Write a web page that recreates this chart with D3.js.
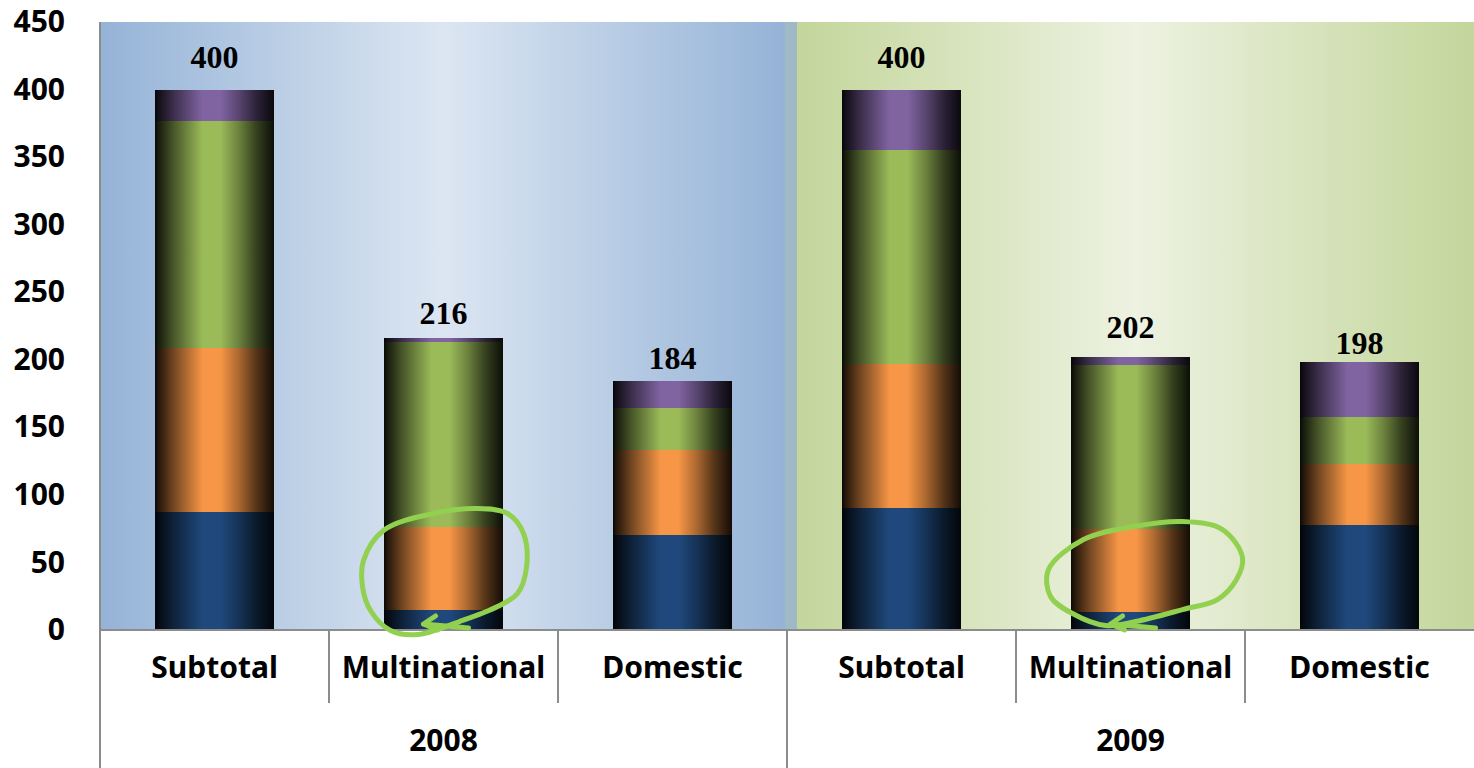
<!DOCTYPE html>
<html>
<head>
<meta charset="utf-8">
<script src="https://cdn.jsdelivr.net/npm/d3@7"></script>
<style>
  body { margin: 0; background: #fff; }
  svg { display: block; }
</style>
</head>
<body>
<div id="content"></div>
<script>
// stacked bars, 2008 vs 2009, bottom to top: blue, orange, green, purple
let categories = ["Subtotal", "Multinational", "Domestic", "Subtotal", "Multinational", "Domestic"];
let groups = ["2008", "2008", "2008", "2009", "2009", "2009"];
let groupNames = ["2008", "2009"];
let seriesNames = ["blue", "orange", "green", "purple"];
let blueValues = [87, 15, 70, 90, 13, 78];
let orangeValues = [122, 61, 63, 107, 62, 45];
let greenValues = [168, 137, 31, 158, 121, 35];
let purpleValues = [23, 3, 20, 45, 6, 40];
let totals = [400, 216, 184, 400, 202, 198];
let yTicks = [0, 50, 100, 150, 200, 250, 300, 350, 400, 450];

let width = 1474;
let height = 768;
let plotLeft = 100, plotRight = 1474, plotTop = 22, baseline = 630;

let colors = { blue: "#1f497d", orange: "#f79646", green: "#9bbb59", purple: "#8064a2" };
// gap between total label baseline and bar top (labels were placed by hand)
let labelGap = [22, 14, 12, 22, 19, 8];

let svg = d3.select("#content").append("svg")
  .attr("width", width)
  .attr("height", height);

let defs = svg.append("defs");

let rows = categories.map(function(c, i) {
  return {
    key: i, category: c, group: groups[i],
    blue: blueValues[i], orange: orangeValues[i],
    green: greenValues[i], purple: purpleValues[i]
  };
});

let x = d3.scaleBand()
  .domain(rows.map(d => d.key))
  .range([plotLeft, plotRight])
  .paddingInner(0.48)
  .paddingOuter(0.24);
let step = x.step();
let y = d3.scaleLinear().domain([0, 450]).range([baseline, plotTop]);

// background gradients for the two years
function bgGradient(id, edge, mid) {
  let g = defs.append("linearGradient").attr("id", id)
    .attr("x1", "0%").attr("x2", "100%").attr("y1", "0%").attr("y2", "0%");
  g.append("stop").attr("offset", "0%").attr("stop-color", edge);
  g.append("stop").attr("offset", "50%").attr("stop-color", mid);
  g.append("stop").attr("offset", "100%").attr("stop-color", edge);
}
bgGradient("bg2008", "#95b3d7", "#dce6f2");
bgGradient("bg2009", "#c3d69b", "#edf2e1");

let groupStart = {};
groupNames.forEach(function(g) {
  let keys = rows.filter(d => d.group == g).map(d => d.key);
  groupStart[g] = [x(keys[0]) - x.paddingOuter() * step,
                   x(keys[keys.length - 1]) + x.bandwidth() + x.paddingOuter() * step];
});

svg.append("rect")
  .attr("x", groupStart["2008"][0]).attr("y", plotTop)
  .attr("width", groupStart["2008"][1] - groupStart["2008"][0] - 2)
  .attr("height", baseline - plotTop)
  .attr("fill", "url(#bg2008)");
svg.append("rect")
  .attr("x", groupStart["2009"][0] + 10).attr("y", plotTop)
  .attr("width", groupStart["2009"][1] - groupStart["2009"][0] - 10)
  .attr("height", baseline - plotTop)
  .attr("fill", "url(#bg2009)");
svg.append("rect")
  .attr("x", groupStart["2009"][0] - 2).attr("y", plotTop)
  .attr("width", 12)
  .attr("height", baseline - plotTop)
  .attr("fill", "#9fbac6");

// cylinder-like shading for each series
seriesNames.forEach(function(s) {
  let c = colors[s];
  let dark = d3.interpolateRgb(c, "#000");
  let g = defs.append("linearGradient").attr("id", "bar_" + s)
    .attr("x1", "0%").attr("x2", "100%").attr("y1", "0%").attr("y2", "0%");
  [[0, 0.95], [0.03, 0.85], [0.15, 0.55], [0.4, 0], [0.55, 0], [0.7, 0.3], [0.85, 0.65], [1, 0.92]]
    .forEach(function(p) {
      g.append("stop").attr("offset", p[0]).attr("stop-color", dark(p[1]));
    });
});

let stacked = d3.stack().keys(seriesNames)(rows);

svg.append("g").selectAll("g")
  .data(stacked)
  .join("g")
  .attr("fill", d => "url(#bar_" + d.key + ")")
  .selectAll("rect")
  .data(d => d)
  .join("rect")
  .attr("shape-rendering", "crispEdges")
  .attr("x", d => x(d.data.key))
  .attr("y", d => y(d[1]))
  .attr("width", x.bandwidth())
  .attr("height", d => y(d[0]) - y(d[1]));

// total labels
svg.append("g").selectAll("text")
  .data(totals)
  .join("text")
  .attr("x", (d, i) => x(i) + x.bandwidth() / 2)
  .attr("y", (d, i) => y(d) - labelGap[i])
  .attr("text-anchor", "middle")
  .style("font-family", "'Liberation Serif', 'Times New Roman', serif")
  .style("font-weight", "bold")
  .style("font-size", "32px")
  .text(d => d);

// y axis
let yAxis = svg.append("g")
  .attr("transform", "translate(" + plotLeft + ",0)")
  .call(d3.axisLeft(y).tickValues(yTicks).tickSize(0).tickPadding(35));
yAxis.select(".domain").remove();
yAxis.selectAll("text")
  .style("font-family", "'Noto Sans', 'Open Sans', sans-serif")
  .style("font-weight", "bold")
  .style("font-size", "30px")
  .attr("fill", "#000");

let axisColor = "#8c8c8c";
svg.append("line")
  .attr("x1", plotLeft).attr("x2", plotLeft).attr("y1", plotTop).attr("y2", height)
  .attr("stroke", axisColor).attr("stroke-width", 2);
svg.append("line")
  .attr("x1", plotLeft).attr("x2", plotRight).attr("y1", baseline).attr("y2", baseline)
  .attr("stroke", axisColor).attr("stroke-width", 2);

// category separators and labels
let catTicks = rows.filter((d, i) => i > 0 && groups[i] == groups[i - 1]);
svg.append("g").selectAll("line")
  .data(catTicks)
  .join("line")
  .attr("x1", d => x(d.key) - x.paddingInner() * step / 2)
  .attr("x2", d => x(d.key) - x.paddingInner() * step / 2)
  .attr("y1", baseline).attr("y2", 703)
  .attr("stroke", axisColor).attr("stroke-width", 2);

svg.append("g").selectAll("line")
  .data(groupNames.slice(1))
  .join("line")
  .attr("x1", d => groupStart[d][0])
  .attr("x2", d => groupStart[d][0])
  .attr("y1", baseline).attr("y2", height)
  .attr("stroke", axisColor).attr("stroke-width", 2);

svg.append("g").selectAll("text")
  .data(rows)
  .join("text")
  .attr("x", d => x(d.key) + x.bandwidth() / 2)
  .attr("y", 667)
  .attr("dy", "0.35em")
  .attr("text-anchor", "middle")
  .style("font-family", "'Noto Sans', 'Open Sans', sans-serif")
  .style("font-weight", "bold")
  .style("font-size", "30px")
  .text(d => d.category);

svg.append("g").selectAll("text")
  .data(groupNames)
  .join("text")
  .attr("x", d => (groupStart[d][0] + groupStart[d][1]) / 2)
  .attr("y", 740)
  .attr("dy", "0.35em")
  .attr("text-anchor", "middle")
  .style("font-family", "'Noto Sans', 'Open Sans', sans-serif")
  .style("font-weight", "bold")
  .style("font-size", "30px")
  .text(d => d);

// hand-drawn green loops around the multinational orange segments
let loops = [
  { key: 1, pts: [[-60, -38], [-10, -55], [33, -60], [64, -55], [80, -35], [83, -1], [74, 25], [54, 38],
                  [16, 53], [-26, 66], [-53, 62], [-73, 42], [-81, 18], [-80, -8]] },
  { key: 4, pts: [[-82, -1], [-47, -31], [3, -44], [52, -49], [92, -41], [112, -13], [106, 9], [87, 29],
                  [52, 39], [5, 51], [-25, 55], [-58, 43], [-80, 26]] }
];
let loopLine = d3.line().curve(d3.curveCatmullRomClosed);
loops.forEach(function(l) {
  let cx = x(l.key) + x.bandwidth() / 2;
  let cy = y(orangeValues[l.key] / 2 + blueValues[l.key]);
  svg.append("path")
    .attr("d", loopLine(l.pts.map(p => [cx + p[0], cy + p[1]])))
    .attr("fill", "none")
    .attr("stroke", "#92d050")
    .attr("stroke-width", 5)
    .attr("stroke-linecap", "round");
  let tip = [cx - 20, baseline - 6];
  svg.append("path")
    .attr("d", "M" + (cx + 25) + "," + (baseline - 2) + "L" + tip + "M" + tip + "l12,-8M" + tip + "l14,6")
    .attr("fill", "none")
    .attr("stroke", "#92d050")
    .attr("stroke-width", 5)
    .attr("stroke-linecap", "round");
});
</script>
</body>
</html>
